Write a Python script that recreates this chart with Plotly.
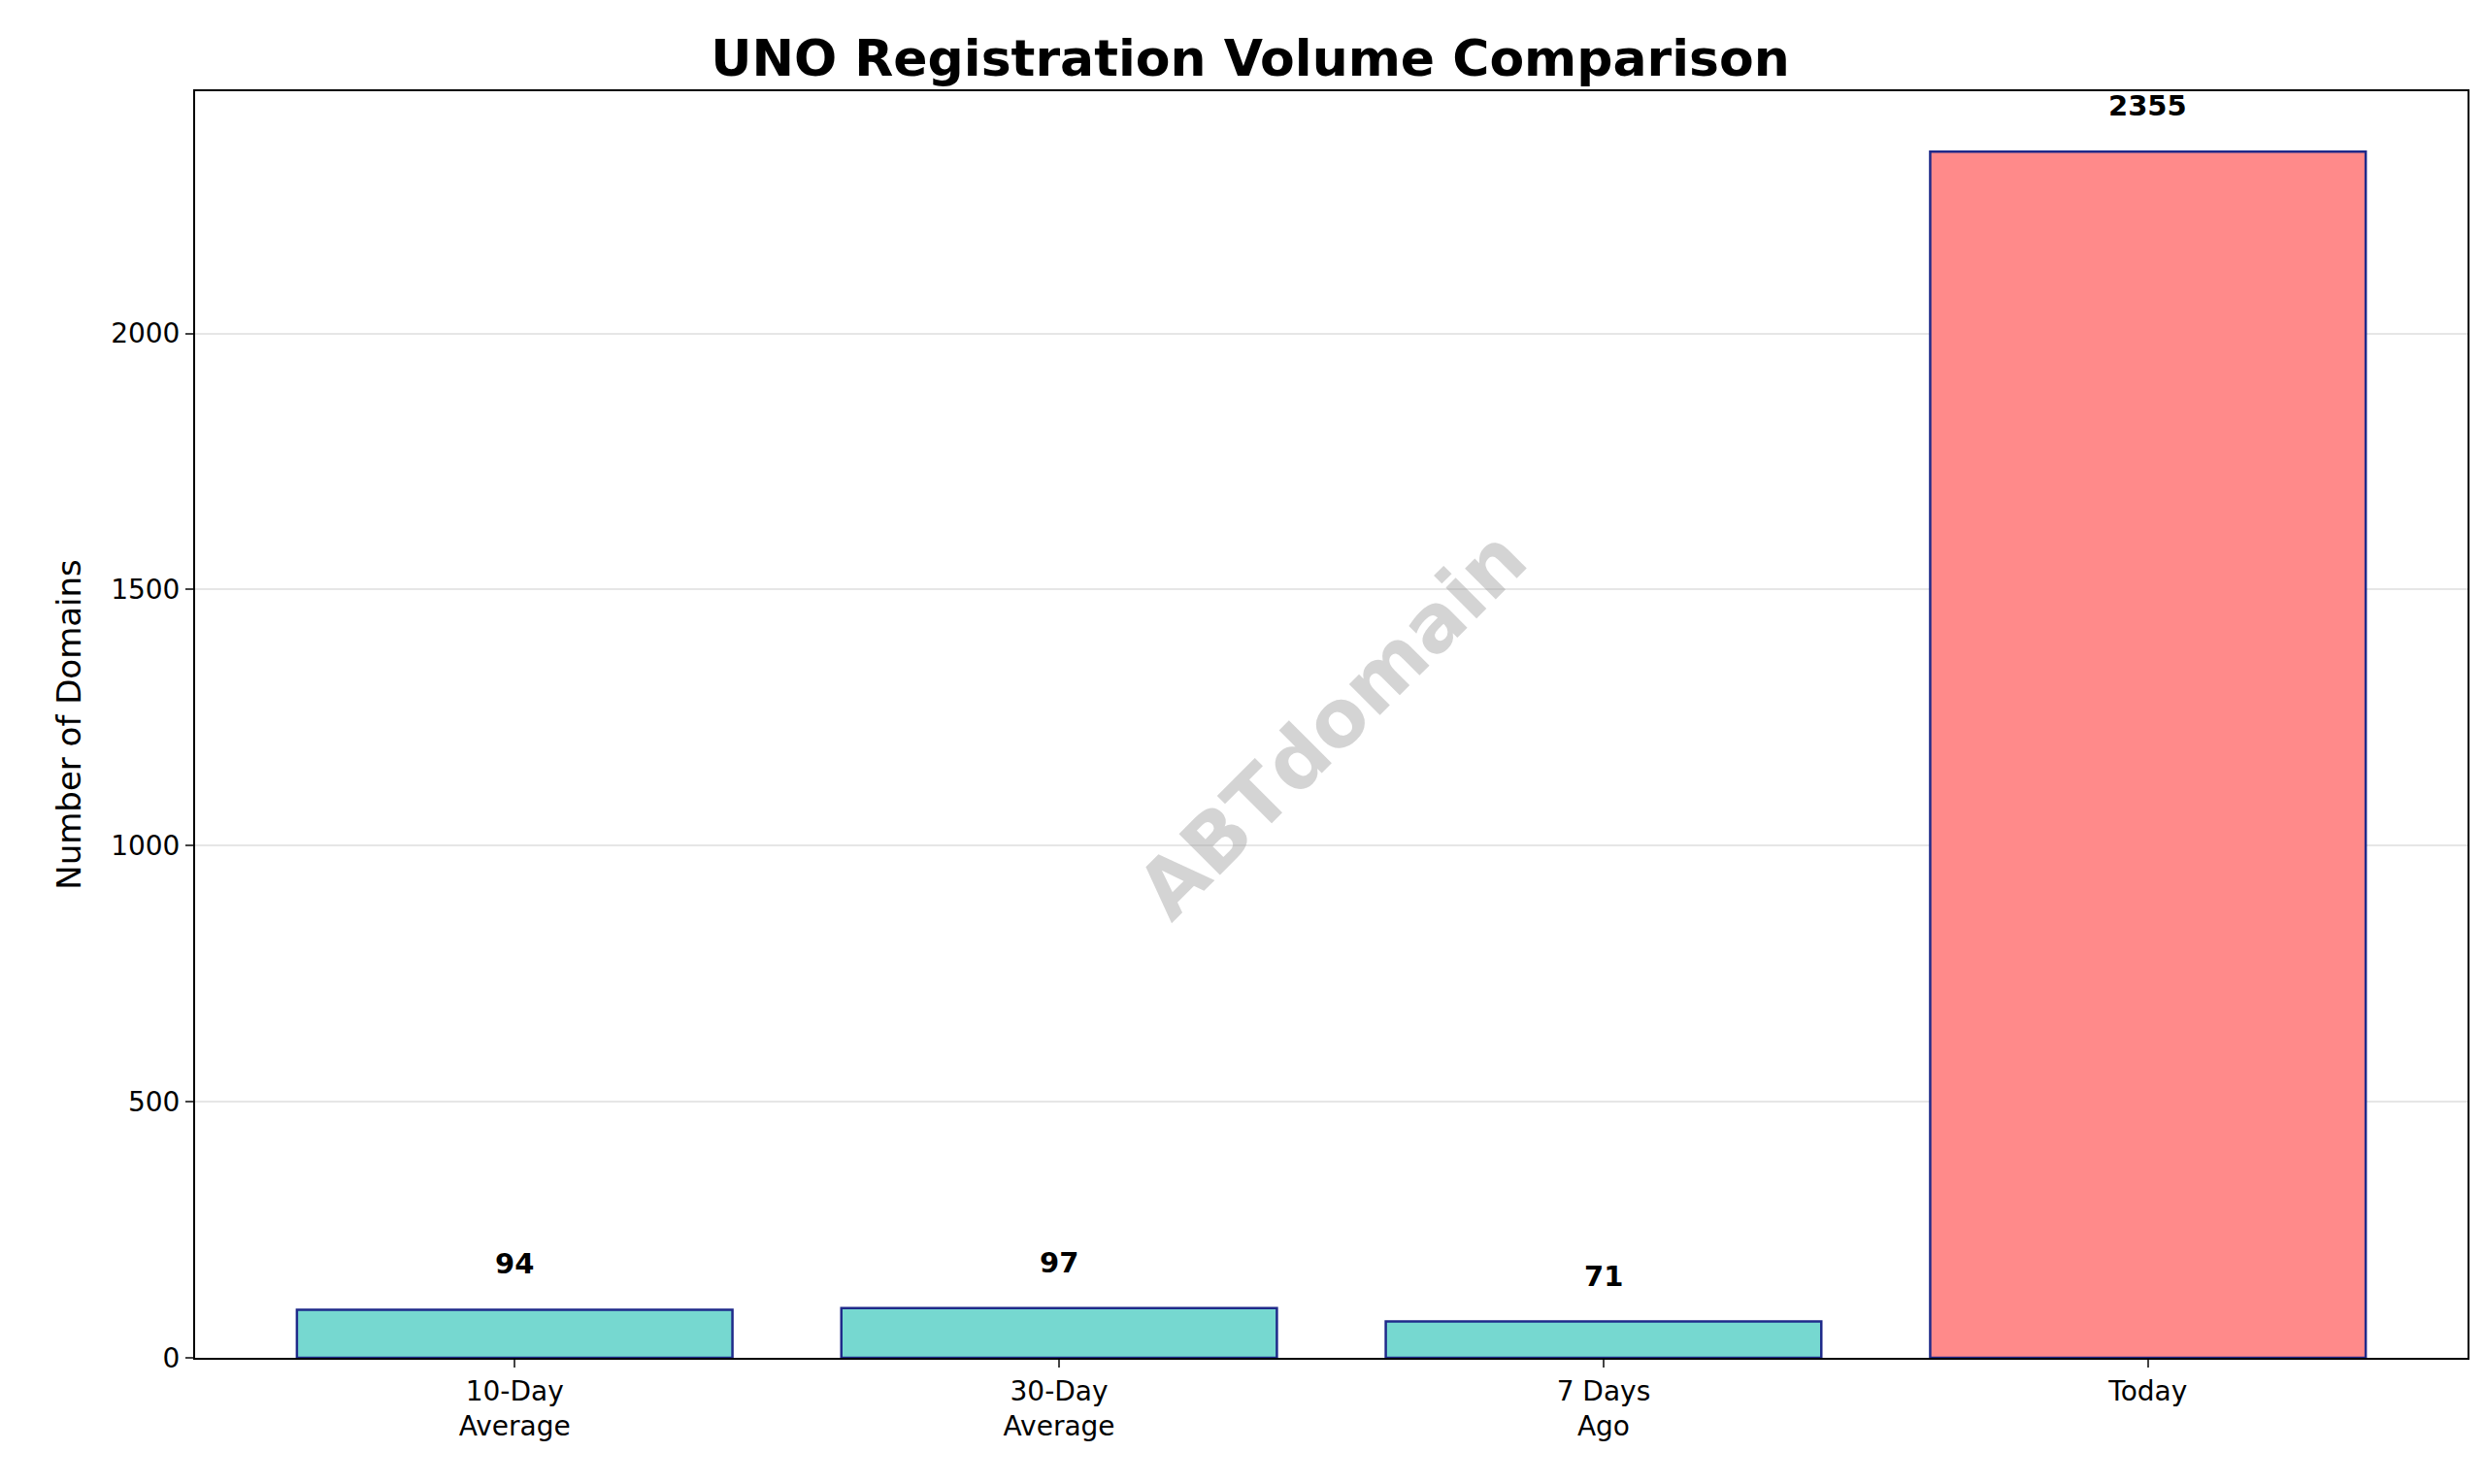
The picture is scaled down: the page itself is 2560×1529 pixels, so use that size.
import plotly.graph_objects as go

categories = ["10-Day<br>Average", "30-Day<br>Average", "7 Days<br>Ago", "Today"]
values = [94, 97, 71, 2355]
colors = ["#76D8D0", "#76D8D0", "#76D8D0", "#FF8A8A"]

fig = go.Figure(go.Bar(
    x=list(range(len(categories))), y=values, width=0.8,
    marker=dict(color=colors, line=dict(color="#1f2a8a", width=2.5)),
))
for i, v in enumerate(values):
    fig.add_annotation(x=i, y=v, text=f"<b>{v}</b>", showarrow=False,
                       yanchor="bottom", yshift=28,
                       font=dict(size=29, color="black", family="DejaVu Sans"))
fig.add_annotation(xref="paper", yref="paper", x=0.5, y=0.5, text="<b>ABTdomain</b>",
                   showarrow=False, textangle=-45,
                   font=dict(size=82, color="rgba(160,160,160,0.45)", family="DejaVu Sans"))
fig.update_layout(
    width=2560, height=1529, plot_bgcolor="white", paper_bgcolor="white",
    margin=dict(l=193, r=26, t=86, b=138),
    font=dict(family="DejaVu Sans", color="black", size=28),
    title=dict(text="<b>UNO Registration Volume Comparison</b>", x=0.5, xanchor="center",
               y=1 - 52/1529, yanchor="middle", font=dict(size=52)),
    showlegend=False, bargap=0.2,
)
fig.update_xaxes(tickvals=list(range(len(categories))), ticktext=categories,
                 range=[-0.587, 3.587], showline=True, linecolor="black", linewidth=2,
                 mirror=True, ticks="outside", ticklen=8, tickwidth=2, showgrid=False)
fig.update_yaxes(range=[0, 2473], tickvals=[0, 500, 1000, 1500, 2000], showline=True,
                 linecolor="black", linewidth=2, mirror=True, ticks="outside", ticklen=8,
                 tickwidth=2, showgrid=True, gridcolor="#e6e6e6", gridwidth=2, zeroline=False,
                 title=dict(text="Number of Domains", font=dict(size=34), standoff=20))
fig.write_html("out.html")
